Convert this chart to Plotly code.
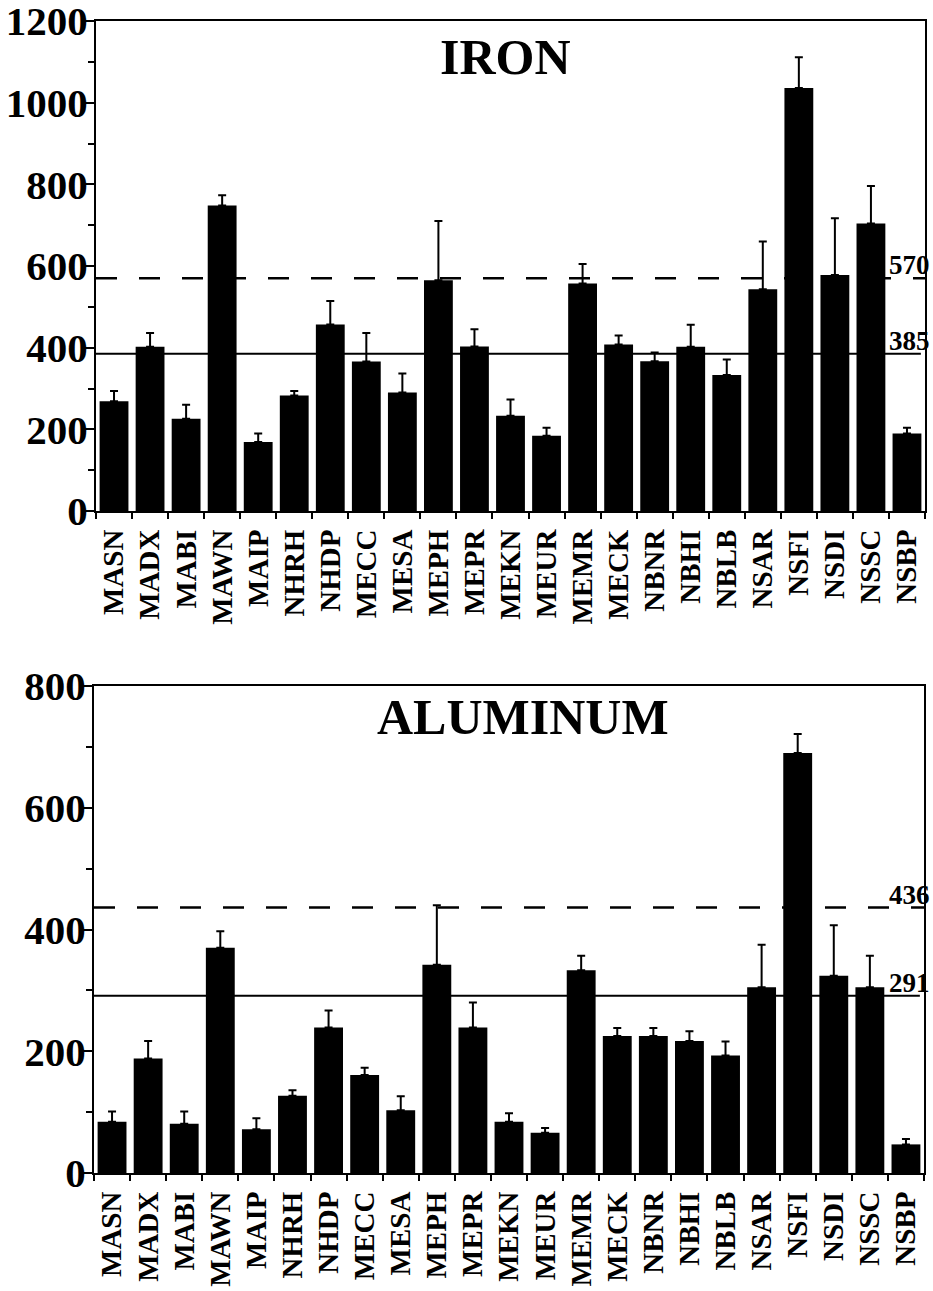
import plotly.graph_objects as go

sites = ["MASN", "MADX", "MABI", "MAWN", "MAIP", "NHRH", "NHDP", "MECC", "MESA", "MEPH",
         "MEPR", "MEKN", "MEUR", "MEMR", "MECK", "NBNR", "NBHI", "NBLB", "NSAR", "NSFI",
         "NSDI", "NSSC", "NSBP"]

iron_mean = [269, 402, 226, 748, 169, 283, 457, 366, 290, 565,
             403, 233, 184, 557, 408, 367, 402, 333, 543, 1036,
             578, 704, 190]
iron_err = [25, 34, 34, 25, 21, 11, 57, 70, 47, 145,
            42, 40, 20, 48, 22, 21, 54, 38, 117, 75,
            139, 92, 14]

al_mean = [84, 188, 81, 370, 72, 127, 239, 161, 103, 342,
           239, 84, 66, 333, 225, 225, 217, 193, 305, 690,
           324, 305, 47]
al_err = [17, 29, 20, 27, 18, 9, 28, 12, 23, 98,
          41, 14, 8, 24, 13, 13, 16, 23, 70, 31,
          83, 52, 9]

iron_lines = {"mean": 385, "upper": 570}
al_lines = {"mean": 291, "upper": 436}

W, H = 933, 1291
FONT = "Liberation Serif"

x_idx = list(range(len(sites)))
boundaries = [i - 0.5 for i in range(len(sites) + 1)]

fig = go.Figure()

for mean, err, xa, ya in [(iron_mean, iron_err, "x", "y"), (al_mean, al_err, "x2", "y2")]:
    fig.add_trace(go.Bar(
        x=x_idx, y=mean, width=0.8,
        marker=dict(color="black", line=dict(width=0)),
        error_y=dict(type="data", array=err, arrayminus=[0] * len(err), symmetric=False,
                     color="black", thickness=2, width=4),
        xaxis=xa, yaxis=ya, showlegend=False,
    ))

def xaxis_cfg(domain, anchor):
    return dict(
        domain=domain, anchor=anchor, range=[-0.5, len(sites) - 0.5],
        tickmode="array", tickvals=x_idx, ticktext=sites, ticks="",
        tickangle=-90, ticklabelstandoff=5,
        tickfont=dict(family=FONT, size=29, color="black", weight="bold"),
        minor=dict(tickmode="array", tickvals=boundaries, ticks="outside", ticklen=6,
                   tickwidth=2, tickcolor="black"),
        showline=True, linecolor="black", linewidth=2, mirror=True,
        showgrid=False, zeroline=False, automargin=False, fixedrange=True,
        ticklabeloverflow="allow",
    )

def yaxis_cfg(domain, anchor, rng, dtick):
    return dict(
        domain=domain, anchor=anchor, range=rng, tickmode="linear", tick0=0, dtick=dtick,
        ticks="outside", ticklen=9, tickwidth=2, tickcolor="black",
        ticklabelstandoff=-11, ticklabeloverflow="allow",
        minor=dict(dtick=dtick / 2, tick0=0, ticks="outside", ticklen=6, tickwidth=2,
                   tickcolor="black", showgrid=False),
        tickfont=dict(family=FONT, size=41, color="black", weight="bold"),
        showline=True, linecolor="black", linewidth=2, mirror=True,
        showgrid=False, zeroline=False, automargin=False, fixedrange=True,
    )

top_x = [96 / W, 925 / W]
top_y = [1 - 511 / H, 1 - 21 / H]
bot_x = [94 / W, 924 / W]
bot_y = [1 - 1173 / H, 1 - 686 / H]

shapes = []
annotations = []
for lines, xr, yr in [(iron_lines, "x domain", "y"), (al_lines, "x2 domain", "y2")]:
    shapes.append(dict(type="line", xref=xr, yref=yr, x0=0, x1=0.995,
                       y0=lines["mean"], y1=lines["mean"],
                       line=dict(color="black", width=2), layer="below"))
    shapes.append(dict(type="line", xref=xr, yref=yr, x0=0, x1=1,
                       y0=lines["upper"], y1=lines["upper"],
                       line=dict(color="black", width=2.5, dash="21px,22px"), layer="below"))
    for key in ["upper", "mean"]:
        annotations.append(dict(
            xref="paper", yref=yr, x=887 / W, y=lines[key], xanchor="left", yanchor="middle",
            yshift=13, text=str(lines[key]), showarrow=False,
            font=dict(family=FONT, size=27, color="black", weight="bold"),
        ))

annotations.append(dict(xref="paper", yref="paper", x=505 / W, y=1 - 57 / H,
                        xanchor="center", yanchor="middle", text="IRON", showarrow=False,
                        font=dict(family=FONT, size=50, color="black", weight="bold")))
annotations.append(dict(xref="paper", yref="paper", x=523 / W, y=1 - 717 / H,
                        xanchor="center", yanchor="middle", text="ALUMINUM", showarrow=False,
                        font=dict(family=FONT, size=50, color="black", weight="bold")))

fig.update_layout(
    width=W, height=H, margin=dict(l=0, r=0, t=0, b=0),
    paper_bgcolor="white", plot_bgcolor="white", bargap=0.2,
    xaxis=xaxis_cfg(top_x, "y"), yaxis=yaxis_cfg(top_y, "x", [0, 1200], 200),
    xaxis2=xaxis_cfg(bot_x, "y2"), yaxis2=yaxis_cfg(bot_y, "x2", [0, 800], 200),
    shapes=shapes, annotations=annotations, showlegend=False,
)

fig.write_html("out.html", config={"displayModeBar": False})
